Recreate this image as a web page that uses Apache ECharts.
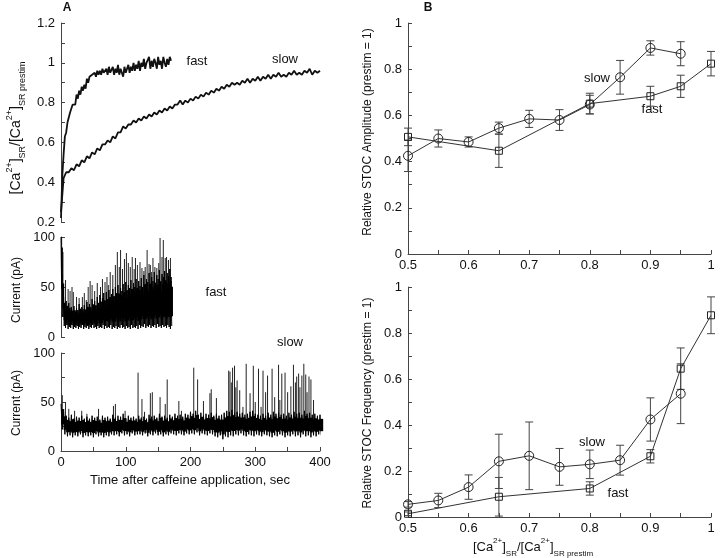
<!DOCTYPE html>
<html><head><meta charset="utf-8">
<script src="https://cdn.jsdelivr.net/npm/echarts@6/dist/echarts.min.js"></script>
<style>html,body{margin:0;padding:0;background:#fff}#c{width:720px;height:558px}</style>
</head><body><div id="c"></div>
<script>
// ---------- Panel A: SR Ca2+ traces ----------
const caFastStep = 2;   // seconds between samples
const caFast = [0.22,0.43,0.54,0.63,0.65,0.70,0.70,0.75,0.74,0.79,
  0.80,0.79,0.84,0.82,0.86,0.84,0.88,0.86,0.89,0.87,
  0.92,0.90,0.93,0.92,0.94,0.93,0.95,0.93,0.96,0.94,
  0.96,0.94,0.97,0.95,0.96,0.97,0.94,0.98,0.95,0.96,
  0.98,0.94,0.97,0.95,0.99,0.94,0.97,0.96,0.93,0.98,
  0.95,0.97,0.99,0.95,0.98,0.96,1.00,0.96,0.99,0.97,
  1.01,0.96,1.00,0.98,1.02,0.97,1.00,0.99,1.03,0.97,
  1.01,0.98,1.02,1.00,0.97,1.03,0.99,1.01,0.97,1.03,
  1.00,0.98,1.02,0.99,1.03,1.01];
const caSlowStep = 4;
const caSlow = [0.25,0.42,0.45,0.45,0.47,0.46,0.49,0.48,0.51,0.50,
  0.53,0.52,0.55,0.54,0.57,0.56,0.59,0.59,0.61,0.60,
  0.63,0.62,0.65,0.65,0.68,0.67,0.69,0.69,0.71,0.70,
  0.72,0.71,0.73,0.72,0.74,0.73,0.75,0.74,0.76,0.75,
  0.77,0.76,0.78,0.77,0.79,0.79,0.81,0.79,0.81,0.80,
  0.82,0.81,0.83,0.82,0.84,0.83,0.85,0.84,0.86,0.85,
  0.87,0.86,0.88,0.87,0.89,0.88,0.90,0.89,0.90,0.89,
  0.91,0.90,0.92,0.90,0.92,0.91,0.93,0.91,0.93,0.92,
  0.94,0.92,0.94,0.93,0.95,0.93,0.94,0.93,0.95,0.94,
  0.96,0.94,0.95,0.94,0.96,0.95,0.97,0.94,0.96,0.95,
  0.96];

// ---------- Panel A: currents (pA) ----------
const curFastStep = 2;
const curFastHi = [100,62,40,33,36,28,34,27,30,26,
  31,25,29,27,33,26,30,28,32,27,
  35,29,33,30,38,31,36,32,40,33,
  42,35,39,44,36,45,38,47,40,43,
  48,41,50,44,52,42,49,46,53,45,
  55,47,52,49,57,48,54,50,58,49,
  56,51,59,50,62,53,58,55,64,52,
  60,56,65,54,62,58,67,55,63,60,
  66,57,64,61,68,60];
const curFastLo = [48,20,11,9,12,8,10,9,12,8,
  10,9,11,8,10,9,12,8,10,9,
  11,8,10,9,12,9,10,8,11,9,
  10,9,12,8,11,9,10,9,12,8,
  10,9,11,8,10,9,12,9,10,8,
  11,9,10,8,12,9,10,9,11,8,
  12,9,11,10,13,9,11,10,12,9,
  11,10,12,9,13,10,11,9,12,10,
  11,9,12,10,8,11];
const fastSpikeT = [1,3,7,11,14,17,19,24,28,33,36,39,42,45,48,52,56,61,64,68,71,73,76,80,84,87,90,92,95,98,
  101,104,107,110,113,115,118,122,125,128,130,133,136,138,140,142,145,148,151,153,156,158,161,163,166,169];
const fastSpikeV = [100,85,57,48,46,50,45,40,39,40,44,37,50,56,52,46,54,50,58,55,60,52,65,62,72,85,70,87,68,78,
  84,74,70,80,68,79,72,75,69,66,70,87,73,72,65,79,70,69,74,99,80,97,79,80,77,79];

const curSlowStep = 4;
const curSlowHi = [48,40,36,34,37,33,35,34,36,33,
  35,33,36,34,35,32,36,34,35,33,
  37,34,36,35,38,33,36,34,35,33,
  36,34,35,33,37,35,36,34,38,35,
  36,34,37,35,38,36,37,35,38,37,
  40,38,41,37,39,36,38,37,39,36,
  38,36,37,39,41,40,42,39,40,38,
  39,37,38,40,41,38,37,36,38,36,
  39,37,40,38,39,37,38,36,39,37,
  40,38,39,37,41,38,39,37,38,36,
  37];
const curSlowLo = [22,17,15,16,14,16,15,17,14,16,
  15,16,14,17,15,16,14,16,15,17,
  16,17,15,18,16,17,15,18,16,17,
  17,16,18,15,17,16,18,16,17,15,
  17,16,18,17,16,18,17,16,18,17,
  18,17,19,16,18,17,16,18,17,15,
  14,16,12,15,14,16,15,17,16,18,
  16,15,17,16,15,17,16,15,17,16,
  15,14,16,15,17,16,14,16,15,17,
  15,16,14,17,15,16,14,16,15,17,
  16];
const slowSpikeT = [2,7,12,21,32,40,58,81,84,99,119,125,129,138,141,153,161,164,182,186,
  205,211,220,230,232,240,259,261,265,268,272,276,286,292,297,305,312,319,326,336,
  341,346,355,359,367,372,375,378,386,390,263,270,281,300,309,316,330,338,350,362,364,369,380,383];
const slowSpikeV = [57,50,43,41,41,38,43,46,48,41,80,53,40,59,60,55,48,73,51,41,
  85,73,51,59,63,54,82,81,85,87,72,62,89,59,87,84,82,77,84,88,
  79,80,66,88,79,77,89,78,73,52,70,65,45,50,45,60,55,52,60,70,76,65,60,76];

// ---------- Panel B ----------
const xSlow = [0.5,0.55,0.6,0.65,0.7,0.75,0.8,0.85,0.9,0.95];
const xFast = [0.5,0.65,0.8,0.9,0.95,1.0];
const ampSlow = [0.425,0.50,0.485,0.545,0.585,0.58,0.647,0.765,0.892,0.867];
const ampSlowErr = [0.068,0.037,0.022,0.026,0.037,0.045,0.04,0.073,0.031,0.052];
const ampFast = [0.507,0.447,0.651,0.683,0.726,0.824];
const ampFastErr = [0.038,0.072,0.045,0.043,0.048,0.053];
const freqSlow = [0.055,0.072,0.13,0.242,0.266,0.218,0.229,0.247,0.424,0.536];
const freqSlowErr = [0.012,0.031,0.053,0.118,0.147,0.08,0.062,0.065,0.094,0.13];
const freqFast = [0.014,0.088,0.124,0.264,0.645,0.877];
const freqFastErr = [0.008,0.084,0.029,0.029,0.09,0.08];

const tickA = [0,100,200,300,400];

// ---------- build ----------
const FONT = '"Liberation Sans", Arial, sans-serif';
const AX = '#444';
function zig(hi, lo, step){
  const out=[];
  for(let i=0;i<hi.length;i++){ out.push([i*step,hi[i]]); out.push([i*step+step/2,lo[i]]); }
  return out;
}
function bins(hi, lo, step){ return hi.map((h,i)=>[i*step,lo[i],h]); }
function spikes(T,V,base){ return T.map((t,i)=>[t,base,V[i]]); }
function errs(X,Y,E){ return X.map((x,i)=>[x,Y[i]-E[i],Y[i]+E[i]]); }
function pts(X,Y){ return X.map((x,i)=>[x,Y[i]]); }

function yAx(gi,min,max,interval,minor){
  return {gridIndex:gi,type:'value',min,max,interval,
    axisLine:{show:true,lineStyle:{color:AX,width:1}},
    axisTick:{show:true,inside:true,length:4,lineStyle:{color:AX}},
    minorTick:{show:!!minor,splitNumber:2,length:4,lineStyle:{color:AX}},
    splitLine:{show:false},minorSplitLine:{show:false},
    axisLabel:{color:'#111',fontSize:13,fontFamily:FONT,margin:6}};
}
function xAx(gi,min,max,interval,show){
  return {gridIndex:gi,type:'value',min,max,interval,show:show,
    axisLine:{show:true,onZero:false,lineStyle:{color:AX,width:1}},
    axisTick:{show:true,inside:true,length:4,lineStyle:{color:AX}},
    minorTick:{show:true,splitNumber:2,length:4,lineStyle:{color:AX}},
    splitLine:{show:false},minorSplitLine:{show:false},
    axisLabel:{color:'#111',fontSize:13,fontFamily:FONT,margin:5}};
}
const errRender = function(params, api){
  const x=api.value(0), lo=api.value(1), hi=api.value(2);
  const a=api.coord([x,lo]), b=api.coord([x,hi]);
  const w=4, st={stroke:'#444',lineWidth:1};
  return {type:'group',children:[
    {type:'line',shape:{x1:a[0],y1:a[1],x2:b[0],y2:b[1]},style:st},
    {type:'line',shape:{x1:a[0]-w,y1:a[1],x2:a[0]+w,y2:a[1]},style:st},
    {type:'line',shape:{x1:b[0]-w,y1:b[1],x2:b[0]+w,y2:b[1]},style:st}]};
};
const spikeRender = function(params, api){
  const t=api.value(0), lo=api.value(1), hi=api.value(2);
  const a=api.coord([t,lo]), b=api.coord([t,hi]);
  return {type:'line',shape:{x1:a[0],y1:a[1],x2:b[0],y2:b[1]},style:{stroke:'#222',lineWidth:1}};
};
function coreRender(step){
  return function(params, api){
    const t=api.value(0), lo=api.value(1), hi=api.value(2);
    const inset=(hi-lo)*0.2;
    const a=api.coord([t,lo+inset]), b=api.coord([t+step,hi-inset]);
    return {type:'rect',shape:{x:a[0],y:b[1],width:b[0]-a[0]+0.6,height:a[1]-b[1]},style:{fill:'#000'}};
  };
}
function lineS(xi,data,sym,size){
  return {type:'line',xAxisIndex:xi,yAxisIndex:xi,data,symbol:sym,symbolSize:size,showSymbol:true,
    lineStyle:{color:'#333',width:1},itemStyle:{color:'rgba(255,255,255,0)',borderColor:'#222',borderWidth:1},
    emphasis:{disabled:true},z:3};
}
function errS(xi,data){
  return {type:'custom',xAxisIndex:xi,yAxisIndex:xi,data,renderItem:errRender,encode:{x:0,y:[1,2]},z:2};
}
function txt(x,y,s,size,bold){
  return {type:'text',x,y,style:{text:s,fill:'#111',font:(bold?'bold ':'')+size+'px '+FONT,
    align:'center',verticalAlign:'middle',textAlign:'center',textVerticalAlign:'middle'}};
}
function vtxt(x,y,s,size){
  const t=txt(x,y,s,size,false); t.rotation=Math.PI/2; return t;
}
function richCa(bs,ss){
  return {
    b:{fontSize:bs,fontFamily:FONT,fill:'#111',color:'#111',lineHeight:bs+8},
    sup:{fontSize:ss,fontFamily:FONT,fill:'#111',color:'#111',lineHeight:ss+1,verticalAlign:'top'},
    sub:{fontSize:ss,fontFamily:FONT,fill:'#111',color:'#111',lineHeight:ss+1,verticalAlign:'bottom'}
  };
}
const caText = '{b|[Ca}{sup|2+}{b|]}{sub|SR}{b|/[Ca}{sup|2+}{b|]}{sub|SR prestim}';
function richTxt(x,y,rot,bs,ss){
  return {type:'text',x,y,rotation:rot,style:{text:caText,rich:richCa(bs,ss),fill:'#111',font:bs+'px '+FONT,
    align:'center',verticalAlign:'middle',textAlign:'center',textVerticalAlign:'middle'}};
}

const grids = [
  {left:61,top:23,width:259,height:199},
  {left:61,top:237,width:259,height:100},
  {left:61,top:353,width:259,height:98},
  {left:408,top:23,width:303,height:231},
  {left:408,top:287,width:303,height:230}
].map(g=>Object.assign(g,{containLabel:false,outerBoundsMode:'none'}));

const chart = echarts.init(document.getElementById('c'),null,{renderer:'canvas'});
chart.setOption({
  animation:false,
  backgroundColor:'#fff',
  grid:grids,
  xAxis:[
    xAx(0,0,400,100,false),
    xAx(1,0,400,100,false),
    Object.assign(xAx(2,0,400,100,true),{axisLabel:{color:'#111',fontSize:13,fontFamily:FONT,margin:5,
      formatter:v=>tickA.indexOf(v)>=0?String(v):''}}),
    xAx(3,0.5,1,0.1,true),
    xAx(4,0.5,1,0.1,true)
  ],
  yAxis:[
    yAx(0,0.2,1.2,0.2,true),
    yAx(1,0,100,50,false),
    yAx(2,0,100,50,true),
    yAx(3,0,1,0.2,true),
    yAx(4,0,1,0.2,true)
  ],
  series:[
    {type:'line',xAxisIndex:0,yAxisIndex:0,data:caFast.map((v,i)=>[i*caFastStep,v]),symbol:'none',
      lineStyle:{color:'#111',width:1.8},emphasis:{disabled:true}},
    {type:'line',xAxisIndex:0,yAxisIndex:0,data:caSlow.map((v,i)=>[i*caSlowStep,v]),symbol:'none',
      lineStyle:{color:'#111',width:1.8},emphasis:{disabled:true}},
    {type:'custom',xAxisIndex:1,yAxisIndex:1,data:spikes(fastSpikeT,fastSpikeV,20),renderItem:spikeRender,encode:{x:0,y:[1,2]}},
    {type:'custom',xAxisIndex:1,yAxisIndex:1,data:bins(curFastHi,curFastLo,curFastStep),renderItem:coreRender(curFastStep),encode:{x:0,y:[1,2]}},
    {type:'line',xAxisIndex:1,yAxisIndex:1,data:zig(curFastHi,curFastLo,curFastStep),symbol:'none',
      lineStyle:{color:'#000',width:1},emphasis:{disabled:true}},
    {type:'custom',xAxisIndex:2,yAxisIndex:2,data:spikes(slowSpikeT,slowSpikeV,25),renderItem:spikeRender,encode:{x:0,y:[1,2]}},
    {type:'custom',xAxisIndex:2,yAxisIndex:2,data:bins(curSlowHi,curSlowLo,curSlowStep),renderItem:coreRender(curSlowStep),encode:{x:0,y:[1,2]}},
    {type:'line',xAxisIndex:2,yAxisIndex:2,data:zig(curSlowHi,curSlowLo,curSlowStep),symbol:'none',
      lineStyle:{color:'#000',width:1},emphasis:{disabled:true}},
    errS(3,errs(xSlow,ampSlow,ampSlowErr)),
    errS(3,errs(xFast,ampFast,ampFastErr)),
    lineS(3,pts(xSlow,ampSlow),'circle',9),
    lineS(3,pts(xFast,ampFast),'rect',7),
    errS(4,errs(xSlow,freqSlow,freqSlowErr)),
    errS(4,errs(xFast,freqFast,freqFastErr)),
    lineS(4,pts(xSlow,freqSlow),'circle',9),
    lineS(4,pts(xFast,freqFast),'rect',7)
  ],
  graphic:[
    txt(67,8,'A',12,true),
    txt(428,8,'B',12,true),
    txt(197,61,'fast',13),
    txt(285,59,'slow',13),
    txt(216,292,'fast',13),
    txt(290,342,'slow',13),
    txt(597,78,'slow',13),
    txt(652,109,'fast',13),
    txt(592,442,'slow',13),
    txt(618,493,'fast',13),
    richTxt(16,128,Math.PI/2,14,9),
    vtxt(17,290,'Current (pA)',12),
    vtxt(17,403,'Current (pA)',12),
    txt(190,480,'Time after caffeine application, sec',13),
    vtxt(368,132,'Relative STOC Amplitude (prestim = 1)',12),
    vtxt(368,403,'Relative STOC Frequency (prestim = 1)',12),
    richTxt(533,547,0,13,8)
  ]
});
</script></body></html>
